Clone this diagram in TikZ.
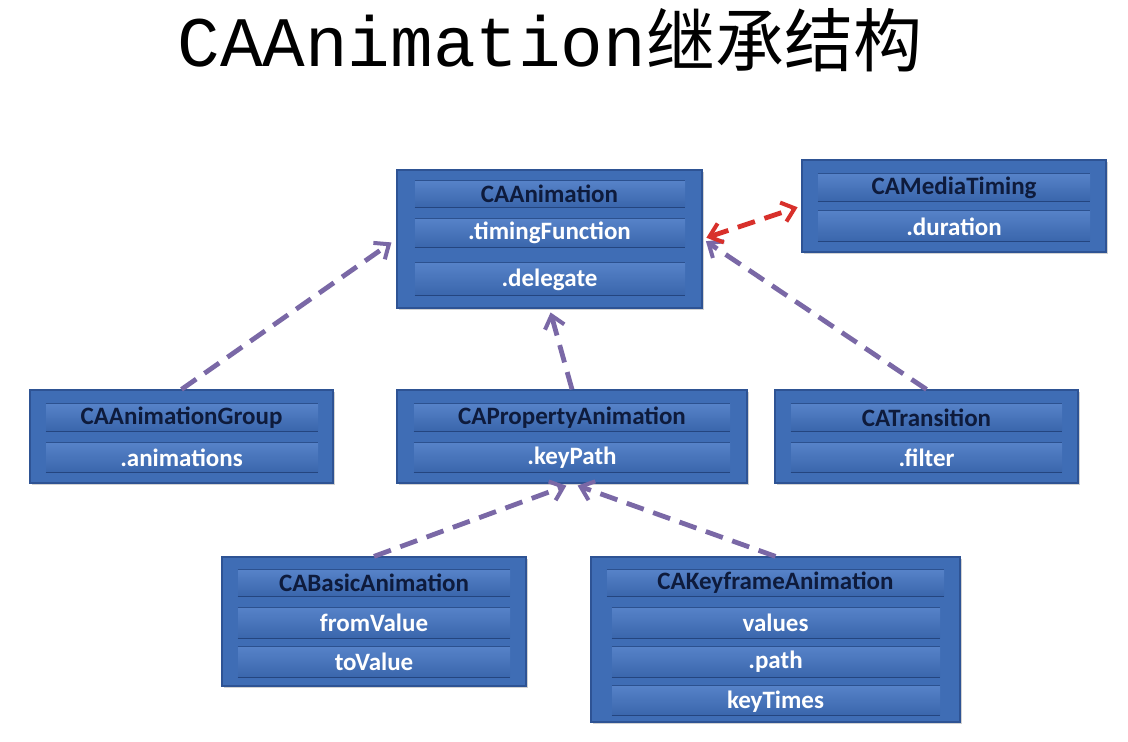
\documentclass[tikz,border=0pt]{standalone}
\usepackage{fontspec}
\newfontfamily\calfont{Carlito}
\newfontfamily\titlemono{Liberation Mono}
\newfontfamily\cjk{Noto Sans CJK SC}
\usetikzlibrary{fit,arrows.meta,shadows}
\definecolor{boxblue}{HTML}{3F6DB5}
\definecolor{boxedge}{HTML}{2E5394}
\definecolor{rowtop}{HTML}{5682C8}
\definecolor{rowbot}{HTML}{3A66AC}
\definecolor{sepline}{HTML}{24457F}
\definecolor{headtext}{HTML}{0E1B3C}
\definecolor{inhcol}{HTML}{7A68A6}
\definecolor{protocol}{HTML}{D8302B}
\tikzset{
  umlbox/.style={draw=boxedge, line width=0.6pt, fill=boxblue, inner sep=0pt,
    drop shadow={opacity=0.35, shadow xshift=1.2pt, shadow yshift=-1.2pt}},
  umlrow/.style={draw=none, top color=rowtop, bottom color=rowbot, inner sep=0pt,
    append after command={
      (\tikzlastnode.south west) edge[draw=sepline, line width=0.7pt] (\tikzlastnode.south east)
      (\tikzlastnode.north west) edge[draw=sepline!70!boxblue, line width=0.4pt] (\tikzlastnode.north east)}},
  headtxt/.style={font=\calfont\bfseries\fontsize{12.5}{14}\selectfont, text=headtext, inner sep=0pt},
  rowtxt/.style={font=\calfont\bfseries\fontsize{12.5}{14}\selectfont, text=white, inner sep=0pt},
  inh/.style={draw=inhcol, line width=2.4pt, dash pattern=on 9pt off 5pt,
    -{Straight Barb[length=6pt,width=10pt,line width=2pt]}},
  real/.style={draw=protocol, line width=2.4pt, dash pattern=on 9pt off 5pt,
    {Straight Barb[length=6pt,width=10pt,line width=2pt]}-{Straight Barb[length=6pt,width=10pt,line width=2pt]}},
}
\begin{document}
\begin{tikzpicture}[x=0.5pt,y=-0.5pt]
\useasboundingbox[fill=white] (0,0) rectangle (1128,742);

% title
\node[inner sep=0pt, anchor=base west] (title) at (177,67)
  {\titlemono\fontsize{35.5}{40}\selectfont CAAnimation\cjk\fontsize{34.5}{40}\selectfont 继承结构};

% ---- CAAnimation
\node[umlbox, fit={(397,170) (702,308)}] (anim) {};
\node[umlrow, fit={(415,181) (685,207)}] (animh) {};
\node[umlrow, fit={(415,219) (685,247)}] (animr1) {};
\node[umlrow, fit={(415,263) (685,295)}] (animr2) {};
\node[headtxt] (animt) at (549.5,194) {CAAnimation};
\node[rowtxt] (animt1) at (549.5,233) {.timingFunction};
\node[rowtxt] (animt2) at (549.5,280) {.delegate};

% ---- CAMediaTiming
\node[umlbox, fit={(802,160) (1106,252)}] (timing) {};
\node[umlrow, fit={(818,174) (1090,201)}] (timingh) {};
\node[umlrow, fit={(818,211) (1090,241)}] (timingr1) {};
\node[headtxt] (timingt) at (954,188) {CAMediaTiming};
\node[rowtxt] (timingt1) at (954,227) {.duration};

% ---- CAAnimationGroup
\node[umlbox, fit={(30,390) (333,483)}] (grp) {};
\node[umlrow, fit={(46,404) (318,431)}] (grph) {};
\node[umlrow, fit={(46,443) (318,472)}] (grpr1) {};
\node[headtxt] (grpt) at (181.5,418) {CAAnimationGroup};
\node[rowtxt] (grpt1) at (181.5,458) {.animations};

% ---- CAPropertyAnimation
\node[umlbox, fit={(397,390) (747,483)}] (prop) {};
\node[umlrow, fit={(414,404) (730,431)}] (proph) {};
\node[umlrow, fit={(414,443) (730,472)}] (propr1) {};
\node[headtxt] (propt) at (572,418) {CAPropertyAnimation};
\node[rowtxt] (propt1) at (572,458) {.keyPath};

% ---- CATransition
\node[umlbox, fit={(775,390) (1078,483)}] (trans) {};
\node[umlrow, fit={(791,404) (1062,431)}] (transh) {};
\node[umlrow, fit={(791,443) (1062,472)}] (transr1) {};
\node[headtxt] (transt) at (926.5,418) {CATransition};
\node[rowtxt] (transt1) at (926.5,458) {.filter};

% ---- CABasicAnimation
\node[umlbox, fit={(222,557) (526,686)}] (basic) {};
\node[umlrow, fit={(238,570) (510,596)}] (basich) {};
\node[umlrow, fit={(238,608) (510,638)}] (basicr1) {};
\node[umlrow, fit={(238,647) (510,677)}] (basicr2) {};
\node[headtxt] (basict) at (374,583) {CABasicAnimation};
\node[rowtxt] (basict1) at (374,623) {fromValue};
\node[rowtxt] (basict2) at (374,662) {toValue};

% ---- CAKeyframeAnimation
\node[umlbox, fit={(591,557) (960,722)}] (key) {};
\node[umlrow, fit={(607,570) (944,596)}] (keyh) {};
\node[umlrow, fit={(612,608) (940,638)}] (keyr1) {};
\node[umlrow, fit={(612,647) (940,677)}] (keyr2) {};
\node[umlrow, fit={(612,686) (940,715)}] (keyr3) {};
\node[headtxt] (keyt) at (775.5,583) {CAKeyframeAnimation};
\node[rowtxt] (keyt1) at (775.5,623) {values};
\node[rowtxt] (keyt2) at (775.5,662) {.path};
\node[rowtxt] (keyt3) at (775.5,702) {keyTimes};

% ---- connectors
\draw[inh, shorten >=3pt] (grp.north) -- (anim.west);
\draw[inh, shorten >=2pt] (prop.north) -- (anim.south);
\draw[inh, shorten >=2pt] (trans.north) -- (anim.east);
\draw[inh, shorten >=3pt] (basic.north) -- (prop.south);
\draw[inh, shorten >=3pt] (key.north) -- (prop.south);
\draw[real, shorten <=2pt, shorten >=2pt] (anim.east) -- (timing.west);
\end{tikzpicture}
\end{document}
